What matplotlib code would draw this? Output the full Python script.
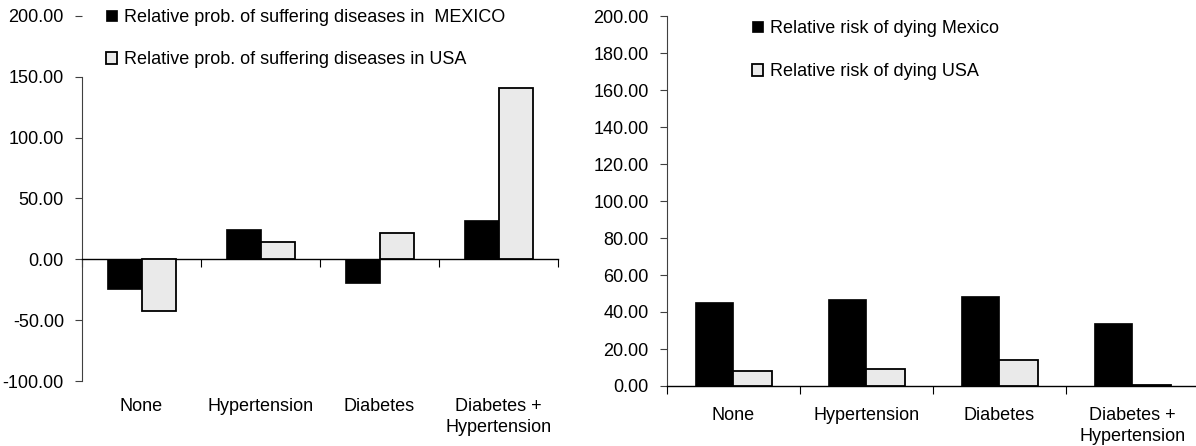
import numpy as np
import matplotlib
matplotlib.use("Agg")
import matplotlib.pyplot as plt

plt.rcParams['font.family'] = ['Liberation Sans', 'DejaVu Sans']

categories = ["None", "Hypertension", "Diabetes", "Diabetes +\nHypertension"]

prob_mexico = [-24.2, 24.7, -19.8, 32.7]
prob_usa = [-42.6, 14.6, 21.5, 141.0]
prob_labels = ["Relative prob. of suffering diseases in  MEXICO",
               "Relative prob. of suffering diseases in USA"]

risk_mexico = [45.4, 47.0, 48.5, 34.2]
risk_usa = [8.1, 9.2, 14.0, 0.8]
risk_labels = ["Relative risk of dying Mexico", "Relative risk of dying USA"]

W, H = 1196, 446
DPI = 100
FS = 13
fig = plt.figure(figsize=(W / DPI, H / DPI), dpi=DPI)

def px_ax(x0, x1, ytop, ybot):
    return fig.add_axes([x0 / W, (H - ybot) / H, (x1 - x0) / W, (ybot - ytop) / H])

axL = px_ax(82, 558, 16, 381)
axR = px_ax(666.7, 1198.7, 16, 386)

usa_face = '#eaeaea'
bw = 0.29
AX_COL = '#404040'

def draw(ax, mex, usa, labels, ylim, ystep, zero_spine, lab_pad, leg_anchor, lspace):
    x = np.arange(len(categories))
    b1 = ax.bar(x - bw / 2, mex, bw, color='black', edgecolor='black', linewidth=0.5, label=labels[0], zorder=3)
    b2 = ax.bar(x + bw / 2, usa, bw, color=usa_face, edgecolor='black', linewidth=1.3, label=labels[1], zorder=3)
    ax.set_xlim(-0.5, len(categories) - 0.5)
    ax.set_ylim(*ylim)
    ax.set_yticks(np.arange(ylim[0], ylim[1] + 0.1, ystep))
    ax.yaxis.set_major_formatter(matplotlib.ticker.FormatStrFormatter('%.2f'))
    ax.tick_params(axis='y', direction='out', length=5, width=0.8, color=AX_COL, pad=8, labelsize=FS)
    for s in ['top', 'right']:
        ax.spines[s].set_visible(False)
    ax.spines['left'].set_color(AX_COL)
    ax.spines['left'].set_linewidth(0.8)
    ax.spines['bottom'].set_color('black')
    ax.spines['bottom'].set_linewidth(1.0)
    if zero_spine:
        ax.spines['bottom'].set_position(('data', 0))
    ax.set_xticks(np.arange(-0.5, len(categories) + 0.5, 1.0))
    ax.tick_params(axis='x', direction='out', length=6, width=0.8, color='black', labelbottom=False)
    sec = ax.secondary_xaxis('bottom')
    sec.set_xticks(x)
    sec.set_xticklabels(categories, linespacing=1.3)
    sec.tick_params(length=0, pad=lab_pad, labelsize=FS)
    sec.spines['bottom'].set_visible(False)
    ax.set_facecolor('none')
    leg = ax.legend(handles=[b1, b2], loc='upper left', bbox_to_anchor=leg_anchor,
                    bbox_transform=fig.transFigure, frameon=False, fontsize=FS,
                    handlelength=0.62, handleheight=0.62, handletextpad=0.35,
                    labelspacing=lspace, borderpad=0, borderaxespad=0)
    return leg

draw(axL, prob_mexico, prob_usa, prob_labels, (-100, 200), 50, True, 12,
     (106 / W, 1 - 9 / H), 1.4)
axL.spines['left'].set_bounds(-100, 150)

draw(axR, risk_mexico, risk_usa, risk_labels, (0, 200), 20, False, 15,
     (752 / W, 1 - 20 / H), 1.45)

fig.savefig('out.png', dpi=DPI)
